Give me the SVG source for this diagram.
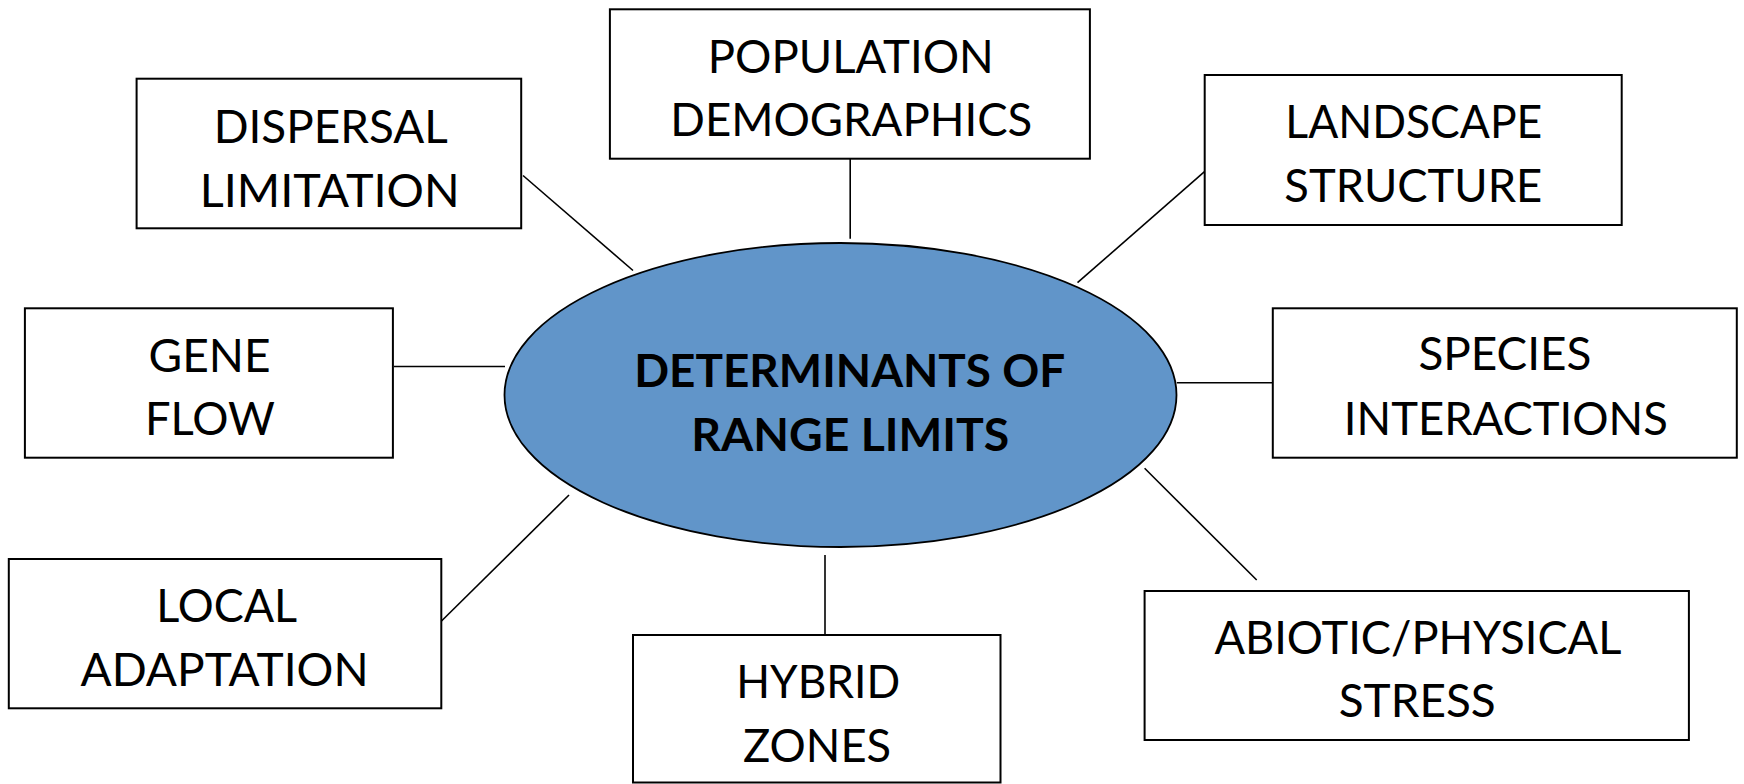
<svg xmlns="http://www.w3.org/2000/svg" width="1744" height="784" viewBox="0 0 1744 784">
<style>
.box{fill:#ffffff;stroke:#000000;stroke-width:2}
.lbl{font-family:Lato,"Open Sans","Liberation Sans",sans-serif;font-size:46px;fill:#000000;text-anchor:middle}
.ctr{font-family:Lato,"Open Sans","Liberation Sans",sans-serif;font-size:46px;font-weight:bold;fill:#000000;text-anchor:middle}
.con line{stroke:#000000;stroke-width:1.6}
</style>
<rect x="0" y="0" width="1744" height="784" fill="#ffffff"/>
<g id="connectors" class="con">
<line x1="523" y1="175.5" x2="633" y2="270.5"/>
<line x1="850.2" y1="158.7" x2="850.2" y2="238.7"/>
<line x1="1204.5" y1="171.7" x2="1077.5" y2="282.7"/>
<line x1="394" y1="366.5" x2="505" y2="366.5"/>
<line x1="1176.8" y1="382.7" x2="1272.8" y2="382.7"/>
<line x1="441.5" y1="621" x2="569" y2="495"/>
<line x1="825" y1="555" x2="825" y2="635"/>
<line x1="1144.6" y1="468.3" x2="1256.7" y2="580"/>
</g>
<g id="center">
<ellipse cx="840.5" cy="395" rx="336" ry="152" fill="#6195C9" stroke="#000000" stroke-width="1.8"/>
<text class="ctr" x="849.7" y="387.3" textLength="431" lengthAdjust="spacingAndGlyphs">DETERMINANTS OF</text>
<text class="ctr" x="850.3" y="450.7" textLength="318" lengthAdjust="spacingAndGlyphs">RANGE LIMITS</text>
</g>
<g id="dispersal">
<rect class="box" x="136.6" y="78.7" width="384.6" height="149.6"/>
<text class="lbl" x="330.7" y="142.7" textLength="234" lengthAdjust="spacingAndGlyphs">DISPERSAL</text>
<text class="lbl" x="329.7" y="206.7" textLength="260" lengthAdjust="spacingAndGlyphs">LIMITATION</text>
</g>
<g id="population">
<rect class="box" x="609.9" y="9.3" width="480" height="149.4"/>
<text class="lbl" x="850.8" y="72.7" textLength="286" lengthAdjust="spacingAndGlyphs">POPULATION</text>
<text class="lbl" x="851.3" y="136" textLength="362" lengthAdjust="spacingAndGlyphs">DEMOGRAPHICS</text>
</g>
<g id="landscape">
<rect class="box" x="1204.7" y="75" width="417" height="150"/>
<text class="lbl" x="1413.8" y="138.3" textLength="257" lengthAdjust="spacingAndGlyphs">LANDSCAPE</text>
<text class="lbl" x="1413.3" y="201.7" textLength="258" lengthAdjust="spacingAndGlyphs">STRUCTURE</text>
</g>
<g id="gene">
<rect class="box" x="24.9" y="308.3" width="368" height="149.4"/>
<text class="lbl" x="209.5" y="371.7" textLength="122" lengthAdjust="spacingAndGlyphs">GENE</text>
<text class="lbl" x="209.9" y="435" textLength="130" lengthAdjust="spacingAndGlyphs">FLOW</text>
</g>
<g id="species">
<rect class="box" x="1272.8" y="308.3" width="464" height="149.4"/>
<text class="lbl" x="1504.9" y="370" textLength="173" lengthAdjust="spacingAndGlyphs">SPECIES</text>
<text class="lbl" x="1505.8" y="435" textLength="324" lengthAdjust="spacingAndGlyphs">INTERACTIONS</text>
</g>
<g id="local">
<rect class="box" x="8.8" y="559" width="432.5" height="149.3"/>
<text class="lbl" x="226.7" y="621.7" textLength="141" lengthAdjust="spacingAndGlyphs">LOCAL</text>
<text class="lbl" x="224.6" y="685.7" textLength="288" lengthAdjust="spacingAndGlyphs">ADAPTATION</text>
</g>
<g id="hybrid">
<rect class="box" x="633" y="635" width="367.5" height="147.5"/>
<text class="lbl" x="818.2" y="697.7" textLength="164" lengthAdjust="spacingAndGlyphs">HYBRID</text>
<text class="lbl" x="817.1" y="761.7" textLength="148" lengthAdjust="spacingAndGlyphs">ZONES</text>
</g>
<g id="abiotic">
<rect class="box" x="1144.6" y="591" width="544.3" height="149"/>
<text class="lbl" x="1417.9" y="654" textLength="407" lengthAdjust="spacingAndGlyphs">ABIOTIC/PHYSICAL</text>
<text class="lbl" x="1417.2" y="717.3" textLength="157" lengthAdjust="spacingAndGlyphs">STRESS</text>
</g>
</svg>
